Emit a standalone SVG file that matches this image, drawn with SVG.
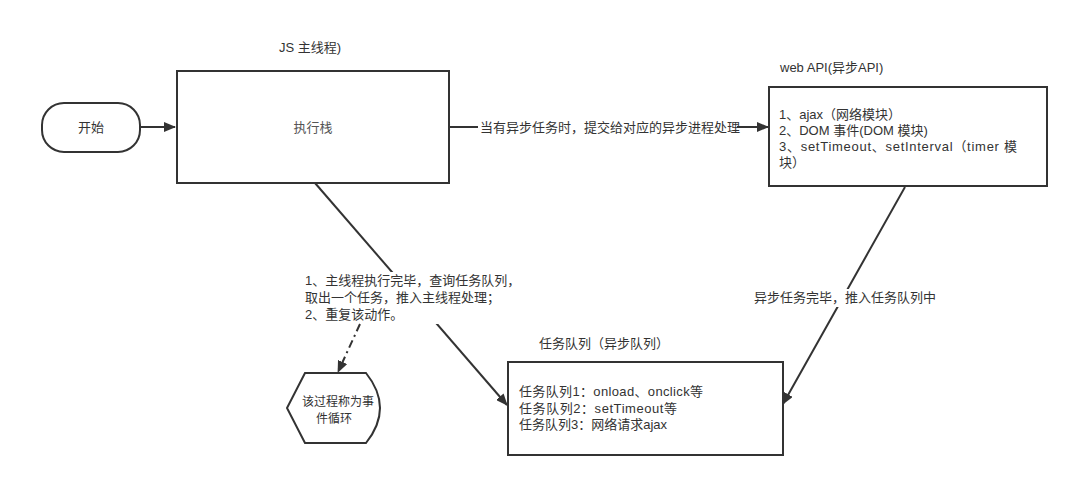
<svg xmlns="http://www.w3.org/2000/svg" width="1072" height="503" viewBox="0 0 1072 503">
<defs>
<style>
.t{font-family:"Liberation Sans","Noto Sans CJK SC",sans-serif;font-size:13px;fill:#333}
.s{font-size:12px}
.box{fill:#fff;stroke:#333;stroke-width:2}
.ln{fill:none;stroke:#333;stroke-width:2}
.bg{fill:#fff}
</style>
<marker id="ah" markerWidth="12" markerHeight="10" refX="11" refY="5" orient="auto" markerUnits="userSpaceOnUse">
<path d="M0,0 L12,5 L0,10 Z" fill="#333"/>
</marker>
</defs>
<rect width="1072" height="503" fill="#fff"/>
<g id="connectors">
<line class="ln" x1="140" y1="127" x2="175" y2="127" marker-end="url(#ah)"/>
<line class="ln" x1="449" y1="127" x2="768" y2="127" marker-end="url(#ah)"/>
<rect class="bg" x="478" y="119" width="259" height="17"/>
<text class="t" x="480" y="132">当有异步任务时，提交给对应的异步进程处理</text>
<line class="ln" x1="315" y1="183" x2="507" y2="405" marker-end="url(#ah)"/>
<rect class="bg" x="302" y="272" width="190" height="52"/>
<text class="t" x="305" y="285">1、主线程执行完毕，查询任务队列，</text>
<text class="t" x="305" y="302">取出一个任务，推入主线程处理；</text>
<text class="t" x="305" y="319">2、重复该动作。</text>
<line class="ln" x1="360" y1="324" x2="338" y2="372" stroke-dasharray="8,4,2,4" marker-end="url(#ah)"/>
<line class="ln" x1="905" y1="187" x2="783" y2="404" marker-end="url(#ah)"/>
<rect class="bg" x="753" y="289" width="184" height="18"/>
<text class="t" x="845" y="302" text-anchor="middle">异步任务完毕，推入任务队列中</text>
</g>
<g id="start">
<rect class="box" x="42" y="103" width="98" height="49" rx="22" ry="22"/>
<text class="t" x="91" y="132" text-anchor="middle">开始</text>
</g>
<g id="mainThread">
<text class="t" x="310" y="52" text-anchor="middle">JS 主线程)</text>
<rect class="box" x="177" y="71" width="272" height="112"/>
<text class="t" x="313" y="132" text-anchor="middle" style="fill:#555">执行栈</text>
</g>
<g id="webApi">
<text class="t" x="780" y="72">web API(异步API)</text>
<rect class="box" x="769" y="87" width="278" height="99"/>
<text class="t" x="779" y="119">1、ajax（网络模块）</text>
<text class="t" x="779" y="135">2、DOM 事件(DOM 模块)</text>
<text class="t" x="779" y="151" textLength="238" lengthAdjust="spacing">3、setTimeout、setInterval（timer 模</text>
<text class="t" x="779" y="167">块）</text>
</g>
<g id="taskQueue">
<text class="t" x="539" y="348">任务队列（异步队列）</text>
<rect class="box" x="508" y="362" width="275" height="93"/>
<text class="t" x="519" y="396" textLength="184" lengthAdjust="spacing">任务队列1：onload、onclick等</text>
<text class="t" x="519" y="413" textLength="158" lengthAdjust="spacing">任务队列2：setTimeout等</text>
<text class="t" x="519" y="429">任务队列3：网络请求ajax</text>
</g>
<g id="eventLoop">
<path class="box" d="M305,373 L366,373 Q394,408 366,443 L305,443 L287,408 Z"/>
<text class="t s" x="338" y="406" text-anchor="middle">该过程称为事</text>
<text class="t s" x="334" y="423" text-anchor="middle">件循环</text>
</g>
</svg>
